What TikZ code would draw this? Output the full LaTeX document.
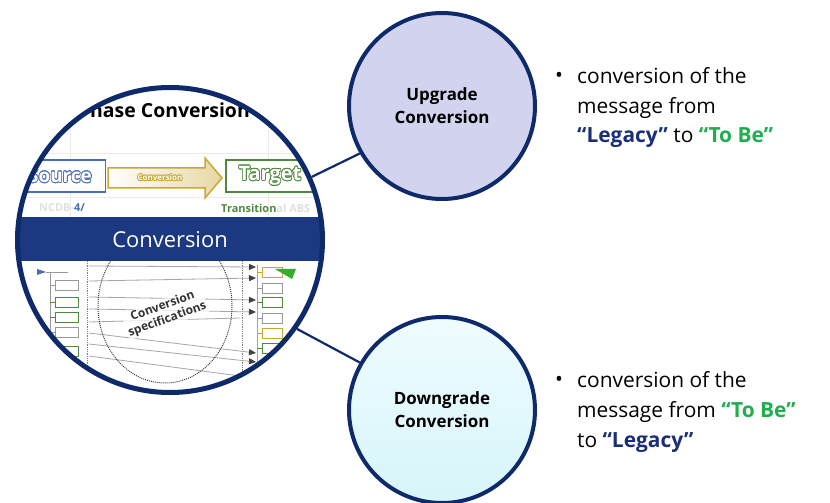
\documentclass[tikz,border=0pt]{standalone}
\usepackage{fontspec}
\setmainfont{Open Sans}
\usepackage{contour}
\contourlength{0.7pt}
\usetikzlibrary{arrows.meta}

\definecolor{navy}{HTML}{0F2A6B}
\definecolor{bandblue}{HTML}{1B3881}
\definecolor{legacyblue}{HTML}{1B2F78}
\definecolor{tobegreen}{HTML}{1FAF4E}
\definecolor{upfill}{HTML}{D2D4EF}
\definecolor{downtop}{HTML}{EFFCFE}
\definecolor{downbot}{HTML}{D6F5FA}
\definecolor{srcblue}{HTML}{4A6DB5}
\definecolor{arrowgold}{HTML}{C9A832}
\definecolor{tgtgreen}{HTML}{4F8A3C}

\tikzset{
  bubble/.style={circle, draw=navy, line width=4bp, minimum size=186bp, inner sep=0pt,
    align=center, font=\bfseries\fontsize{17}{23}\selectfont},
  link/.style={draw=navy, line width=2.2bp},
  bullettext/.style={anchor=base west, align=left, inner sep=0pt,
    font=\fontsize{21}{30}\selectfont},
  gridline/.style={draw=black!8, line width=0.8bp},
  msgline/.style={draw=black!35, line width=0.8bp},
}

\begin{document}
\begin{tikzpicture}[x=1bp,y=-1bp]
    \useasboundingbox (0,0) rectangle (830,503);

    % Lens picture
    \coordinate (lenscentre) at (170,240);
    \begin{scope}
        \clip (lenscentre) circle (153bp);
        \fill[white] (0,60) rectangle (340,420);
        % faint grid
        \draw[gridline] (70,125) -- (70,217) (268,125) -- (268,217)
            (0,153) -- (330,153) (0,197) -- (330,197);
        \node[anchor=base east, inner sep=0pt, font=\bfseries\fontsize{19.5}{24}\selectfont]
            (title) at (250,118) {Phase Conversion};
        % source, arrow, target
        \node[draw=srcblue, line width=1.5bp, fill=white, minimum width=130bp,
            minimum height=32bp, anchor=east] (src) at (106,176) {};
        \node[font=\bfseries\fontsize{19}{22}\selectfont] (srclabel) at (60,176)
            {\contour{srcblue}{\textcolor{white}{Source}}};
        \draw[arrowgold, line width=1.5bp, left color=white, right color=arrowgold!45]
            (108,168) -- (205,168) -- (205,158) -- (222,178) -- (205,198)
            -- (205,188) -- (108,188) -- cycle;
        \node[font=\bfseries\fontsize{8}{10}\selectfont] (convlabel) at (160,178)
            {\contour{arrowgold}{\textcolor{white}{Conversion}}};
        \node[draw=tgtgreen, line width=1.5bp, fill=white, minimum width=110bp,
            minimum height=32bp, anchor=west] (tgt) at (225,176) {};
        \node[font=\bfseries\fontsize{20}{22}\selectfont] (tgtlabel) at (270,176)
            {\contour{tgtgreen}{\textcolor{white}{Target}}};
        \node[anchor=east, inner sep=0pt, text=srcblue, font=\bfseries\fontsize{11}{13}\selectfont]
            (srcnote) at (85,208) {\textcolor{black!12}{NCDB-}4/};
        \node[anchor=west, inner sep=0pt, text=tgtgreen, font=\bfseries\fontsize{11}{13}\selectfont]
            (tgtnote) at (221,208) {Transition\textcolor{black!12}{al ABS}};
        % mapping diagram
        \draw[densely dotted, black!50, line width=0.8bp] (87,225) -- (87,395) (242,225) -- (242,395);
        \foreach \ya/\yb in {266/267, 281/278, 297/300, 309/312, 333/353, 344/362}
            \draw[msgline, -{Triangle[length=7bp,width=6bp,color=black!75]}] (89,\ya) -- (256,\yb);
        \foreach \ya/\yb in {322/318, 356/376}
            \draw[msgline] (89,\ya) -- (240,\yb);
        \draw[densely dotted, black!75, line width=1bp] (165,306) ellipse (67bp and 77bp);
        \node[rotate=20, align=center, text=black!80, fill=white, fill opacity=0.75,
            text opacity=1, inner sep=1pt,
            font=\bfseries\fontsize{12}{14}\selectfont] (spec) at (165,313)
            {Conversion\\specifications};
        % left tree
        \fill[srcblue] (37,269) -- (46,272) -- (37,275) -- cycle;
        \draw[black!40, line width=0.8bp] (46,272) -- (68,272) (50,272) -- (50,362);
        \foreach \y/\c in {285/black!40, 302/tgtgreen, 317/tgtgreen, 332/black!40, 351/tgtgreen}
            \draw[\c, line width=0.8bp] (50,\y) -- (55,\y) (55,\y-5) rectangle (78,\y+5);
        % right tree
        \draw[arrowgold, line width=0.8bp] (257,265) -- (257,362);
        \foreach \y/\c in {272/arrowgold, 288/black!40, 302/tgtgreen, 318/black!40,
                           333/arrowgold, 348/tgtgreen}
            \draw[\c, line width=0.8bp] (257,\y) -- (262,\y) (262,\y-5) rectangle (282,\y+5);
        \fill[tgtgreen!70!green] (275,269) -- (296,269) -- (292,279) -- cycle;
        % band
        \fill[bandblue] (0,217) rectangle (340,261);
        \node[text=white, font=\fontsize{22}{26}\selectfont] (band) at (170,240) {Conversion};
    \end{scope}
    \node[circle, draw=navy, line width=5bp, minimum size=305bp] (lens) at (lenscentre) {};

    % Bubbles
    \node[bubble, fill=upfill] (up) at (442,106) {Upgrade\\Conversion};
    \node[bubble, top color=downtop, bottom color=downbot] (down) at (442,410) {Downgrade\\Conversion};
    \draw[link] (lens.24) -- (up.210);
    \draw[link] (lens.-35) -- (down.150);

    % Bullet texts
    \node (upbullet) at (559,77) {\fontsize{21}{30}\selectfont\textbullet};
    \node[bullettext] (uptext) at (577,143) {conversion of the\\message from\\
        \textcolor{legacyblue}{\bfseries “Legacy”} to \textcolor{tobegreen}{\bfseries “To Be”}};
    \node (downbullet) at (559,381) {\fontsize{21}{30}\selectfont\textbullet};
    \node[bullettext] (downtext) at (577,447) {conversion of the\\
        message from \textcolor{tobegreen}{\bfseries “To Be”}\\
        to \textcolor{legacyblue}{\bfseries “Legacy”}};
\end{tikzpicture}
\end{document}
